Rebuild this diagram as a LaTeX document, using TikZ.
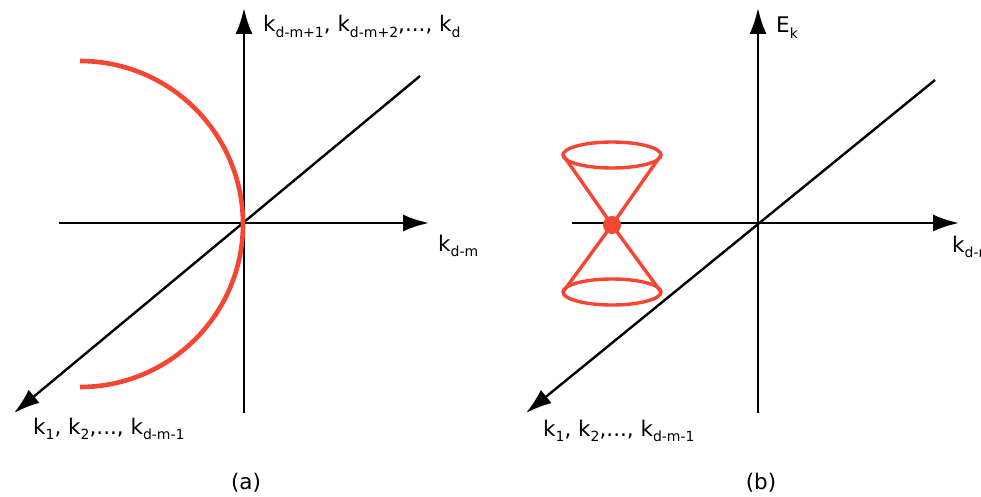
\documentclass[tikz,border=0pt]{standalone}
\usepackage{fontspec}
\setmainfont{DejaVu Sans}
\usetikzlibrary{arrows.meta}
\definecolor{conered}{RGB}{244,70,50}
\newcommand{\ksub}[1]{\raisebox{-0.45ex}{\fontsize{14}{14}\selectfont #1}}

\begin{document}
\begin{tikzpicture}[x=1pt,y=-1pt]
\tikzset{
  axisline/.style={draw=black,line width=2.4pt},
  axisarrow/.style={axisline,-{Latex[length=26pt,width=17pt]}},
  redarc/.style={draw=conered,line width=4.6pt},
  conedraw/.style={draw=conered,line width=3.4pt},
  axislabel/.style={inner sep=0pt,anchor=base west,font=\fontsize{21.5}{24}\selectfont},
  panellabel/.style={inner sep=0pt,font=\fontsize{21.5}{24}\selectfont}
}
\useasboundingbox[fill=white] (0,0) rectangle (981,497);
% panel (a)
\coordinate (a_o) at (244,223);
\coordinate (a_vb) at (244,413);
\coordinate (a_vt) at (244,8);
\coordinate (a_hl) at (59,223);
\coordinate (a_hr) at (429,223);
\coordinate (a_dt) at (420,76);
\coordinate (a_db) at (14,413);
\draw[axisarrow] (a_vb) -- (a_vt);
\draw[axisarrow] (a_hl) -- (a_hr);
\draw[axisarrow] (a_dt) -- (a_db);
\draw[redarc] (80,61) arc[start angle=-90,end angle=90,radius=163];
\node[axislabel] (n_atop) at (263,32) {k\ksub{d-m+1}, k\ksub{d-m+2},..., k\ksub{d}};
\node[axislabel] (n_aright) at (438,251) {k\ksub{d-m}};
\node[axislabel] (n_aleft) at (33,434) {k\ksub{1}, k\ksub{2},..., k\ksub{d-m-1}};
\node[panellabel] (n_a) at (246,483) {(a)};
% panel (b)
\coordinate (b_o) at (758,223);
\coordinate (b_vb) at (758,413);
\coordinate (b_vt) at (758,8);
\coordinate (b_hl) at (572,223);
\coordinate (b_hr) at (959,223);
\coordinate (b_dt) at (935,80);
\coordinate (b_db) at (526,413);
\draw[axisarrow] (b_vb) -- (b_vt);
\draw[axisarrow] (b_hl) -- (b_hr);
\draw[axisarrow] (b_dt) -- (b_db);
\coordinate (c_tl) at (563,155);
\coordinate (c_tr) at (661,155);
\coordinate (c_bl) at (563,292);
\coordinate (c_br) at (661,292);
\draw[conedraw] (612,155) ellipse[x radius=49,y radius=13];
\draw[conedraw] (612,292) ellipse[x radius=49,y radius=13];
\node[circle,fill=conered,inner sep=0pt,minimum size=18pt] (n_dot) at (612,225) {};
\draw[conedraw] (c_tl) -- (n_dot.center) -- (c_br);
\draw[conedraw] (c_tr) -- (n_dot.center) -- (c_bl);
\node[axislabel] (n_ek) at (776,33) {E\ksub{k}};
\node[axislabel] (n_bright) at (952,252) {k\ksub{d-m}};
\node[axislabel] (n_bleft) at (543,436) {k\ksub{1}, k\ksub{2},..., k\ksub{d-m-1}};
\node[panellabel] (n_b) at (761,483) {(b)};
\end{tikzpicture}
\end{document}
